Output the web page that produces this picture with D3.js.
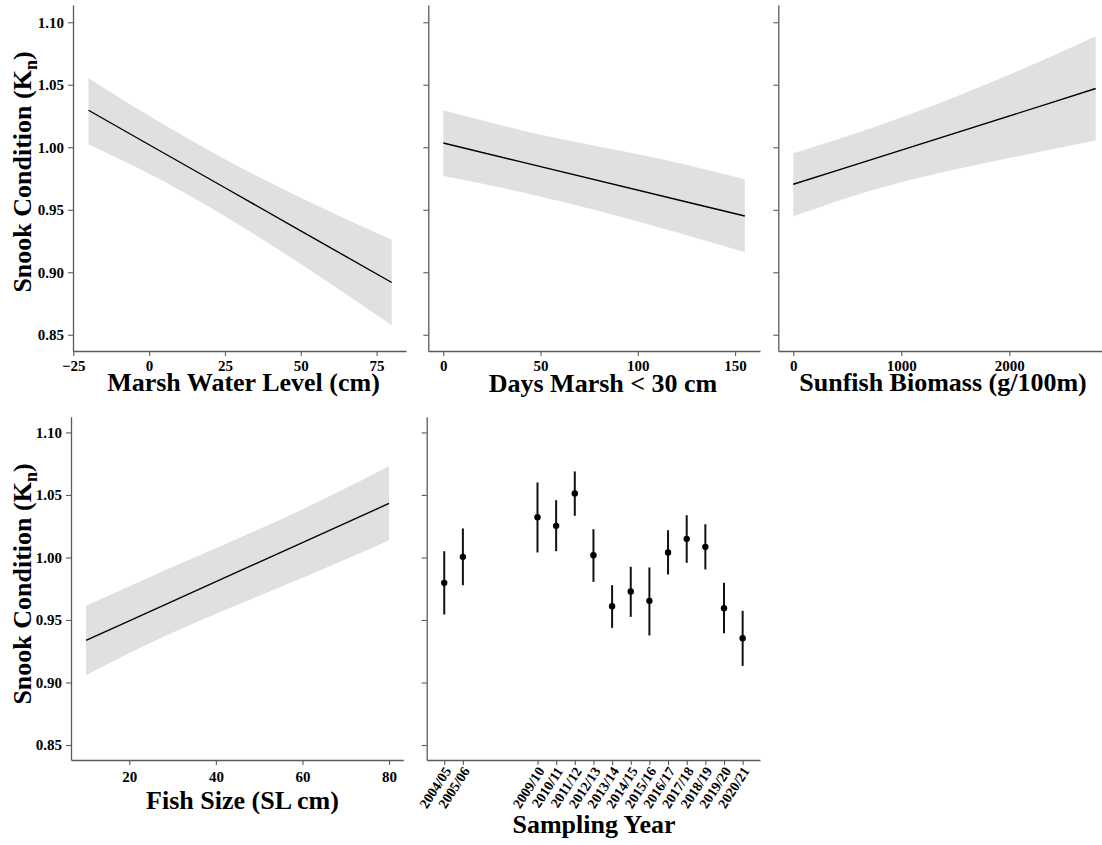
<!DOCTYPE html>
<html>
<head>
<meta charset="utf-8">
<script src="https://cdn.jsdelivr.net/npm/d3@7"></script>
<style>
  html, body { margin: 0; padding: 0; background: #fff; }
  svg { display: block; font-family: "Liberation Serif", "Times New Roman", serif; font-weight: bold; }
</style>
</head>
<body>
<svg id="chart" width="1102" height="845"></svg>
<script>
// Condition response (Kn) shared y ticks
const conditionTicks = [0.85, 0.90, 0.95, 1.00, 1.05, 1.10];

// Marsh water level (cm): fitted condition and 95% band
const waterLevelX     = [-20, 0, 25, 50, 80];
const waterLevelFit   = [1.0296, 1.0020, 0.9676, 0.9331, 0.8918];
const waterLevelUpper = [1.0555, 1.0252, 0.9904, 0.9596, 0.9260];
const waterLevelLower = [1.0024, 0.9788, 0.9448, 0.9066, 0.8576];
const waterLevelTicks = [-25, 0, 25, 50, 75];

// Days marsh < 30 cm
const daysX     = [0, 40, 122, 155];
const daysFit   = [1.0034, 0.9883, 0.9574, 0.9450];
const daysUpper = [1.0296, 1.0136, 0.9870, 0.9744];
const daysLower = [0.9770, 0.9642, 0.9310, 0.9160];
const daysTicks = [0, 50, 100, 150];

// Sunfish biomass (g/100m)
const sunfishX     = [0, 525, 2376, 2800];
const sunfishFit   = [0.9704, 0.9847, 1.0353, 1.0470];
const sunfishUpper = [0.9952, 1.0096, 1.0722, 1.0888];
const sunfishLower = [0.9448, 0.9602, 0.9980, 1.0054];
const sunfishTicks = [0, 1000, 2000];

// Fish size (SL cm)
const sizeX     = [10, 20, 66, 80];
const sizeFit   = [0.9336, 0.9493, 1.0213, 1.0432];
const sizeUpper = [0.9613, 0.9770, 1.0485, 1.0730];
const sizeLower = [0.9058, 0.9235, 0.9925, 1.0136];
const sizeTicks = [20, 40, 60, 80];

// Sampling year estimates with intervals
const years     = ["2004/05", "2005/06", "2009/10", "2010/11", "2011/12", "2012/13", "2013/14",
                   "2014/15", "2015/16", "2016/17", "2017/18", "2018/19", "2019/20", "2020/21"];
const yearMean  = [0.9797, 1.0005, 1.0322, 1.0253, 1.0512, 1.0018, 0.9610,
                   0.9728, 0.9653, 1.0040, 1.0149, 1.0085, 0.9594, 0.9354];
const yearUpper = [1.0050, 1.0232, 1.0600, 1.0458, 1.0688, 1.0226, 0.9778,
                   0.9925, 0.9920, 1.0218, 1.0338, 1.0266, 0.9797, 0.9573];
const yearLower = [0.9544, 0.9778, 1.0040, 1.0050, 1.0333, 0.9805, 0.9437,
                   0.9525, 0.9376, 0.9864, 0.9957, 0.9904, 0.9394, 0.9133];

const svg = d3.select("#chart");
const axisColor = "#5a5a5a";
const tickFont = 15;

function styleAxis(g) {
  g.select(".domain").attr("stroke", axisColor).attr("stroke-width", 1.3);
  g.selectAll(".tick line").attr("stroke", axisColor).attr("stroke-width", 1.1);
  g.selectAll(".tick text").attr("fill", "#000").attr("font-size", tickFont)
    .attr("font-family", "'Liberation Serif', 'Times New Roman', serif").attr("font-weight", "bold");
}

// Draws a panel frame: left and bottom axes
function panelAxes(x, y, opts) {
  const [x0] = x.range();
  const [yb] = y.range();
  const ya = svg.append("g").attr("transform", `translate(${x0},0)`)
    .call(d3.axisLeft(y).tickValues(conditionTicks).tickSize(5).tickSizeOuter(0).tickPadding(4)
      .tickFormat(opts.yLabels ? d3.format(".2f") : ""));
  styleAxis(ya);
  const xa = svg.append("g").attr("transform", `translate(0,${yb})`)
    .call(d3.axisBottom(x).tickValues(opts.xTicks).tickSize(5).tickSizeOuter(0).tickPadding(opts.xPad || 4)
      .tickFormat(opts.xFormat || d3.format("")));
  styleAxis(xa);
  return xa;
}

function fitPanel(xs, fit, upper, lower, x, y) {
  const rows = xs.map((v, i) => ({ x: v, fit: fit[i], hi: upper[i], lo: lower[i] }));
  svg.append("path").datum(rows)
    .attr("fill", "#e0e0e0")
    .attr("d", d3.area().curve(d3.curveMonotoneX).x(d => x(d.x)).y0(d => y(d.lo)).y1(d => y(d.hi)));
  svg.append("path").datum(rows)
    .attr("fill", "none").attr("stroke", "#000").attr("stroke-width", 1.4)
    .attr("d", d3.line().x(d => x(d.x)).y(d => y(d.fit)));
}

function xTitle(text, cx, base) {
  svg.append("text").attr("x", cx).attr("y", base).attr("text-anchor", "middle")
    .attr("font-size", 26).text(text);
}

function yTitle(cx, cy) {
  const t = svg.append("text").attr("transform", `translate(${cx},${cy}) rotate(-90)`)
    .attr("text-anchor", "middle").attr("font-size", 26);
  t.append("tspan").text("Snook Condition (K");
  t.append("tspan").attr("font-size", 18).attr("dy", 6).text("n");
  t.append("tspan").attr("dy", -6).text(")");
}

// Scales for the two rows
const yTop = d3.scaleLinear().domain([0.837, 1.1138]).range([351, 5]);
const yBot = d3.scaleLinear().domain([0.838, 1.1126]).range([760, 416.7]);

// Row 1, panel 1: marsh water level
const x1 = d3.scaleLinear().domain([-25.1, 84.7]).range([73, 406]);
fitPanel(waterLevelX, waterLevelFit, waterLevelUpper, waterLevelLower, x1, yTop);
panelAxes(x1, yTop, { xTicks: waterLevelTicks, yLabels: true });
xTitle("Marsh Water Level (cm)", 243.5, 391);

// Row 1, panel 2: days marsh < 30 cm
const x2 = d3.scaleLinear().domain([-7.7, 162.8]).range([428.3, 760]);
fitPanel(daysX, daysFit, daysUpper, daysLower, x2, yTop);
panelAxes(x2, yTop, { xTicks: daysTicks, yLabels: false });
xTitle("Days Marsh < 30 cm", 603, 392);

// Row 1, panel 3: sunfish biomass
const x3 = d3.scaleLinear().domain([-139, 2858]).range([778.3, 1102]);
fitPanel(sunfishX, sunfishFit, sunfishUpper, sunfishLower, x3, yTop);
panelAxes(x3, yTop, { xTicks: sunfishTicks, yLabels: false });
xTitle("Sunfish Biomass (g/100m)", 943, 391);

// Row 2, panel 1: fish size
const x4 = d3.scaleLinear().domain([6.53, 83.3]).range([71, 403.3]);
fitPanel(sizeX, sizeFit, sizeUpper, sizeLower, x4, yBot);
panelAxes(x4, yBot, { xTicks: sizeTicks, yLabels: true, xPad: 6 });
xTitle("Fish Size (SL cm)", 242.5, 809);

// Row 2, panel 2: sampling year
const startYear = years.map(s => +s.slice(0, 4));
const x5 = d3.scaleLinear().domain([2003.06, 2020.93]).range([426.7, 760]);
const xa5 = panelAxes(x5, yBot, { xTicks: startYear, yLabels: false, xFormat: (d, i) => years[i] });
xa5.selectAll(".tick text")
  .attr("font-size", 14)
  .attr("text-anchor", "end")
  .attr("dy", 0)
  .attr("x", 0).attr("y", 0)
  .attr("transform", "translate(7,11) rotate(-57)");

const yearRows = years.map((lab, i) => ({ x: startYear[i], m: yearMean[i], hi: yearUpper[i], lo: yearLower[i] }));
svg.append("g").selectAll("line").data(yearRows).join("line")
  .attr("x1", d => x5(d.x)).attr("x2", d => x5(d.x))
  .attr("y1", d => yBot(d.hi)).attr("y2", d => yBot(d.lo))
  .attr("stroke", "#111").attr("stroke-width", 2);
svg.append("g").selectAll("circle").data(yearRows).join("circle")
  .attr("cx", d => x5(d.x)).attr("cy", d => yBot(d.m)).attr("r", 3.2).attr("fill", "#000");
xTitle("Sampling Year", 594, 833);

// Shared y titles
yTitle(31, 172);
yTitle(31, 584);
</script>
</body>
</html>
